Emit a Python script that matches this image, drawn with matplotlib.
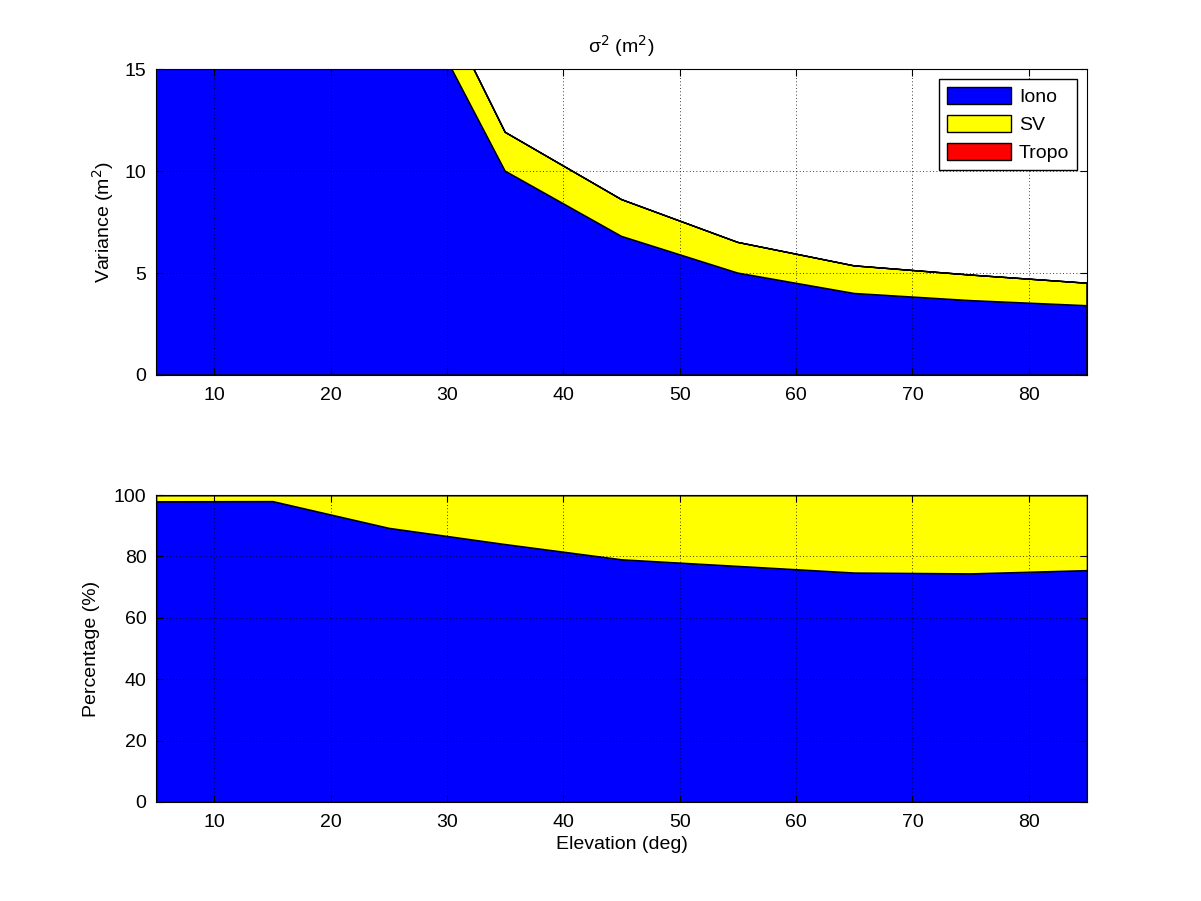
import numpy as np
import matplotlib
matplotlib.use('Agg')
from matplotlib import pylab as plt
from matplotlib import rcParams
rcParams['font.family'] = ['Liberation Sans', 'DejaVu Sans']
rcParams['font.size'] = 14

# elevation angles (deg) and variance components (m^2)
elev = [5, 15, 25, 35, 45, 55, 65, 75, 85]
iono = [140.0, 60.0, 20.9, 10.0, 6.8, 5.0, 4.0, 3.65, 3.4]
sv = [2.9, 1.2, 2.5, 1.9, 1.8, 1.5, 1.35, 1.25, 1.1]
tropo = [0, 0, 0, 0, 0, 0, 0, 0, 0]
labels = ['Iono', 'SV', 'Tropo']
colors = ['#0000ff', '#ffff00', '#ff0000']


def style_axes(ax):
    ax.set_xlim(5, 85)
    ax.set_xticks(range(10, 90, 10))
    ax.tick_params(direction='in', top=True, right=True, length=5)
    ax.tick_params(axis='x', pad=9)
    ax.tick_params(axis='y', pad=7)
    ax.grid(True, linestyle=(0, (1, 3)), color='k', linewidth=0.6)
    ax.set_axisbelow(False)


fig = plt.figure(figsize=(12.01, 9.01), dpi=100)
ax1 = fig.add_axes([0.130, 0.5838, 0.775, 0.3396])
ax2 = fig.add_axes([0.130, 0.1099, 0.775, 0.3407])

polys = ax1.stackplot(elev, iono, sv, tropo, colors=colors,
                      edgecolor='k', linewidth=1)
ax1.set_ylim(0, 15)
ax1.set_yticks([0, 5, 10, 15])
ax1.set_ylabel('Variance (m$^2$)', labelpad=6)
ax1.set_title('σ$^2$ (m$^2$)', pad=12, fontsize=14)
style_axes(ax1)
ax1.legend(polys, labels, loc='upper right', fancybox=False,
           edgecolor='k', framealpha=1, handlelength=3.3, handleheight=1.0,
           handletextpad=0.4, borderaxespad=0.5, borderpad=0.4,
           labelspacing=0.45)

# share of each component in the total variance
total = np.array(iono) + np.array(sv) + np.array(tropo)
p_iono = 100 * np.array(iono) / total
p_sv = 100 * np.array(sv) / total
p_tropo = 100 * np.array(tropo) / total
ax2.stackplot(elev, p_iono, p_sv, p_tropo, colors=colors,
              edgecolor='k', linewidth=1)
ax2.set_ylim(0, 100)
ax2.set_yticks(range(0, 101, 20))
ax2.set_ylabel('Percentage (%)', labelpad=10)
ax2.set_xlabel('Elevation (deg)', labelpad=3)
style_axes(ax2)

plt.savefig('out.png', dpi=100)
